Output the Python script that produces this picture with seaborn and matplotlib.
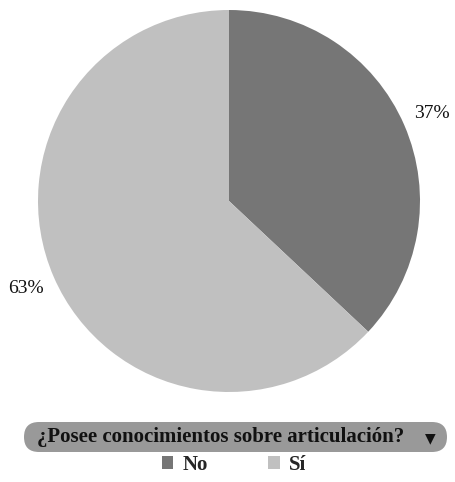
import matplotlib
matplotlib.use("Agg")
import matplotlib.pyplot as plt
import seaborn as sns
from matplotlib.patches import FancyBboxPatch, Patch
from matplotlib.transforms import IdentityTransform

categories = ["No", "Sí"]
values = [37, 63]
colors = ["#767676", "#c0c0c0"]
title = "¿Posee conocimientos sobre articulación?"

sns.set_style("white")
plt.rcParams["font.family"] = ["Liberation Serif", "DejaVu Sans"]

W, H = 455, 482
fig = plt.figure(figsize=(W / 100, H / 100), dpi=100)

cx, cy, r = 229, 201, 191
ax = fig.add_axes([(cx - r) / W, (H - cy - r) / H, 2 * r / W, 2 * r / H])
ax.pie(values, colors=colors, startangle=90, counterclock=False,
       autopct=lambda p: f"{p:.0f}%", pctdistance=1.16,
       textprops=dict(fontsize=14, color="#111111"),
       wedgeprops=dict(linewidth=0))
ax.set_xlim(-1, 1)
ax.set_ylim(-1, 1)
ax.set_aspect("equal")
ax.axis("off")

# Rounded header bar under the pie
box = FancyBboxPatch((24, H - 452), 423, 30,
                     boxstyle="round,pad=0,rounding_size=15",
                     transform=IdentityTransform(), facecolor="#999999",
                     edgecolor="none", zorder=0)
fig.patches.append(box)
fig.text(221 / W, 1 - 437 / H, title, ha="center", va="center",
         fontsize=15, fontweight="bold", color="#111111")
fig.text(430 / W, 1 - 438 / H, "▼", ha="center", va="center",
         fontsize=10, color="#111111", family=["DejaVu Sans"])

handles = [Patch(facecolor=c, edgecolor="none") for c in colors]
fig.legend(handles, categories, loc="center", bbox_to_anchor=(234 / W, 1 - 465 / H),
           ncol=2, frameon=False, handlelength=0.55, handleheight=0.55,
           handletextpad=0.45, columnspacing=2.9,
           prop=dict(weight="bold", size=15))

fig.savefig("out.png", dpi=100)
